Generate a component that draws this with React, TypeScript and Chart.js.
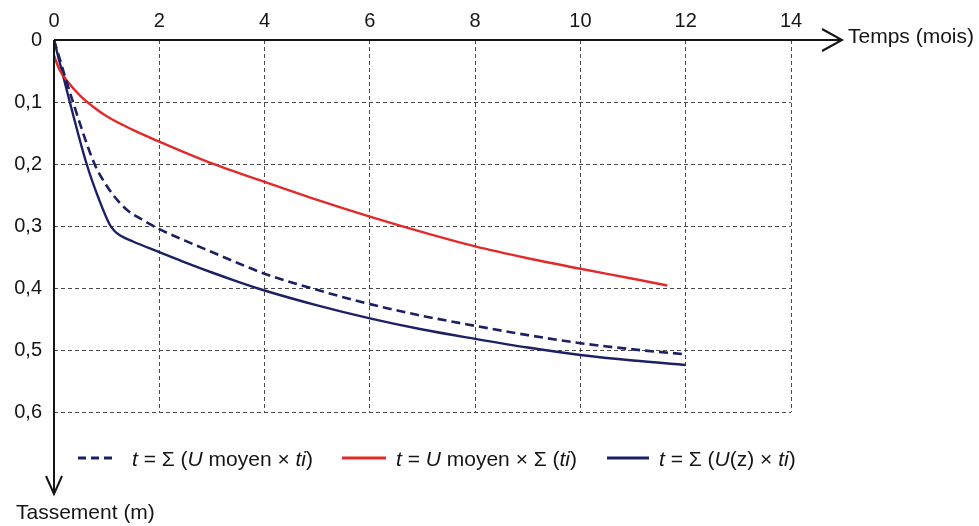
import React, { useEffect, useRef } from "react";
import { Chart, registerables } from "chart.js";

Chart.register(...registerables);

// ---- Data ----
const xTickValues = [0, 2, 4, 6, 8, 10, 12, 14];
const yTickValues = [0, 0.1, 0.2, 0.3, 0.4, 0.5, 0.6];

// t = U moyen × Σ(ti)  (red)
const redT = [0, 0.1, 0.25, 0.5, 0.75, 1, 1.5, 2, 2.5, 3, 4, 5, 6, 7, 8, 9, 10, 11, 11.65];
const redS = [0.025, 0.047, 0.066, 0.09, 0.108, 0.123, 0.145, 0.164, 0.182, 0.199, 0.229, 0.258, 0.285, 0.31, 0.333, 0.352, 0.369, 0.385, 0.396];

// t = Σ(U moyen × ti)  (dashed navy)
const dashT = [0, 0.36, 0.77, 1.0, 1.2, 1.4, 1.7, 2, 2.5, 3, 3.5, 4, 5, 6, 7, 8, 9, 10, 11, 12];
const dashS = [0, 0.1, 0.2, 0.235, 0.258, 0.275, 0.291, 0.305, 0.324, 0.342, 0.36, 0.377, 0.403, 0.426, 0.445, 0.461, 0.476, 0.489, 0.499, 0.507];

// t = Σ(U(z) × ti)  (solid navy)
const solidT = [0, 0.3, 0.62, 0.85, 1.06, 1.15, 1.25, 1.5, 2, 2.5, 3, 3.5, 4, 5, 6, 7, 8, 9, 10, 11, 12];
const solidS = [0, 0.1, 0.2, 0.256, 0.298, 0.308, 0.315, 0.325, 0.342, 0.359, 0.375, 0.39, 0.404, 0.428, 0.449, 0.467, 0.482, 0.496, 0.508, 0.517, 0.524];

const xAxisTitle = "Temps (mois)";
const yAxisTitle = "Tassement (m)";

const NAVY = "#1c2163";
const RED = "#e22a2b";
const FONT = '"Liberation Sans", Arial, sans-serif';

type Seg = [string, boolean];
const legendItems: { color: string; dash: number[]; sampleX: number; sampleW: number; textX: number; parts: Seg[] }[] = [
  {
    color: NAVY, dash: [8, 5], sampleX: 78, sampleW: 34, textX: 132,
    parts: [["t", true], [" = Σ (", false], ["U", true], [" moyen × ", false], ["ti", true], [")", false]],
  },
  {
    color: RED, dash: [], sampleX: 342, sampleW: 44, textX: 396,
    parts: [["t", true], [" = ", false], ["U", true], [" moyen × Σ (", false], ["ti", true], [")", false]],
  },
  {
    color: NAVY, dash: [], sampleX: 607, sampleW: 42, textX: 659,
    parts: [["t", true], [" = Σ (", false], ["U", true], ["(z) × ", false], ["ti", true], [")", false]],
  },
];

const toPts = (xs: number[], ys: number[]) => xs.map((x, i) => ({ x, y: ys[i] }));

const overlay = {
  id: "overlay",
  afterDraw(chart: any) {
    const ctx: CanvasRenderingContext2D = chart.ctx;
    const { left, top, right, bottom } = chart.chartArea;
    ctx.save();
    ctx.strokeStyle = "#151515";
    ctx.fillStyle = "#151515";
    ctx.lineWidth = 2;
    ctx.setLineDash([]);
    // x axis with arrow
    const xEnd = right + 51;
    ctx.beginPath();
    ctx.moveTo(left, top);
    ctx.lineTo(xEnd, top);
    ctx.stroke();
    ctx.beginPath();
    ctx.moveTo(xEnd - 20, top - 11);
    ctx.lineTo(xEnd, top);
    ctx.lineTo(xEnd - 20, top + 11);
    ctx.stroke();
    // y axis with arrow
    const yEnd = bottom + 82;
    ctx.beginPath();
    ctx.moveTo(left, top);
    ctx.lineTo(left, yEnd);
    ctx.stroke();
    ctx.beginPath();
    ctx.moveTo(left - 8, yEnd - 18);
    ctx.lineTo(left, yEnd);
    ctx.lineTo(left + 8, yEnd - 18);
    ctx.stroke();

    // axis titles
    ctx.font = `21px ${FONT}`;
    ctx.textBaseline = "middle";
    ctx.textAlign = "left";
    ctx.fillText(xAxisTitle, xEnd + 6, top - 3);
    ctx.textBaseline = "alphabetic";
    ctx.fillText(yAxisTitle, 16, bottom + 107);

    // legend
    const ly = bottom + 46;
    for (const item of legendItems) {
      ctx.strokeStyle = item.color;
      ctx.lineWidth = 3;
      ctx.setLineDash(item.dash);
      ctx.beginPath();
      ctx.moveTo(item.sampleX, ly);
      ctx.lineTo(item.sampleX + item.sampleW, ly);
      ctx.stroke();
      ctx.setLineDash([]);
      let x = item.textX;
      ctx.fillStyle = "#151515";
      ctx.textBaseline = "alphabetic";
      for (const [txt, it] of item.parts) {
        ctx.font = `${it ? "italic " : ""}21px ${FONT}`;
        ctx.fillText(txt, x, ly + 8);
        x += ctx.measureText(txt).width;
      }
    }
    ctx.restore();
  },
};

export default function App() {
  const ref = useRef<HTMLCanvasElement>(null);
  useEffect(() => {
    if (!ref.current) return;
    const chart = new Chart(ref.current, {
      type: "scatter",
      data: {
        datasets: [
          {
            label: "t = Σ (U moyen × ti)",
            data: toPts(dashT, dashS),
            showLine: true,
            borderColor: NAVY,
            borderWidth: 2.6,
            borderDash: [9, 5],
            pointRadius: 0,
            cubicInterpolationMode: "monotone",
          },
          {
            label: "t = U moyen × Σ (ti)",
            data: toPts(redT, redS),
            showLine: true,
            borderColor: RED,
            borderWidth: 2.4,
            pointRadius: 0,
            cubicInterpolationMode: "monotone",
          },
          {
            label: "t = Σ (U(z) × ti)",
            data: toPts(solidT, solidS),
            showLine: true,
            borderColor: NAVY,
            borderWidth: 2.4,
            pointRadius: 0,
            cubicInterpolationMode: "monotone",
          },
        ],
      },
      options: {
        responsive: false,
        animation: false,
        devicePixelRatio: 1,
        layout: { padding: { left: 0, top: 0, right: 188, bottom: 114 } },
        plugins: { legend: { display: false }, tooltip: { enabled: false } },
        scales: {
          x: {
            type: "linear",
            position: "top",
            min: 0,
            max: 14,
            afterBuildTicks: (s: any) => {
              s.ticks = xTickValues.map((v) => ({ value: v }));
            },
            afterFit: (s: any) => {
              s.height = 40;
            },
            ticks: {
              color: "#151515",
              font: { family: FONT, size: 20 },
              padding: 7,
              maxRotation: 0,
              callback: (v: any) => String(v),
            },
            grid: { color: "#4a4a4a", lineWidth: 1, drawTicks: false },
            border: { display: false, dash: [4, 3] },
          },
          y: {
            type: "linear",
            reverse: true,
            min: 0,
            max: 0.6,
            afterBuildTicks: (s: any) => {
              s.ticks = yTickValues.map((v) => ({ value: v }));
            },
            afterFit: (s: any) => {
              s.width = 54;
            },
            ticks: {
              color: "#151515",
              font: { family: FONT, size: 20 },
              padding: 12,
              callback: (v: any) => (Number(v) === 0 ? "0" : Number(v).toFixed(1).replace(".", ",")),
            },
            grid: { color: "#4a4a4a", lineWidth: 1, drawTicks: false },
            border: { display: false, dash: [4, 3] },
          },
        },
      },
      plugins: [overlay],
    });
    return () => chart.destroy();
  }, []);
  return (
    <div style={{ position: "fixed", left: 0, top: 0, width: 979, height: 526, background: "#fff" }}>
      <canvas ref={ref} width={979} height={526} style={{ display: "block", width: 979, height: 526 }} />
    </div>
  );
}
